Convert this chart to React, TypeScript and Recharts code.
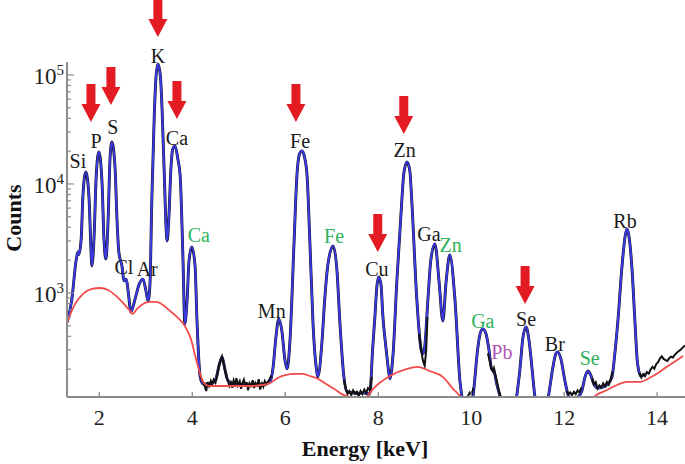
import React from "react";
import { LineChart, Line, XAxis, YAxis, ReferenceDot } from "recharts";

type Pt = [number, number];

// fitted spectrum (blue), [energy keV, counts]
const fitLow: Pt[] = [
  [1.31, 540], [1.41, 880], [1.5, 1970], [1.54, 2380], [1.56, 2250], [1.61, 3130], [1.65, 8100],
  [1.71, 12900], [1.78, 7280], [1.82, 2530], [1.84, 1770], [1.89, 3480], [1.93, 11100], [1.99, 19700],
  [2.06, 10000], [2.1, 3130], [2.14, 2050], [2.19, 4770], [2.23, 16900], [2.27, 24300], [2.34, 13700],
  [2.38, 4770], [2.42, 2380], [2.49, 1740], [2.53, 1290], [2.58, 1340], [2.62, 1040], [2.68, 670],
  [2.77, 881], [2.86, 1210], [2.94, 1340], [3.0, 1065], [3.05, 845], [3.09, 1210], [3.13, 7280],
  [3.18, 39500], [3.22, 95900], [3.26, 126000], [3.31, 102000], [3.35, 48800], [3.39, 15300],
  [3.46, 3000], [3.5, 5300], [3.54, 13700], [3.58, 20900], [3.63, 22300], [3.69, 16900], [3.74, 11800],
  [3.8, 2050], [3.84, 520], [3.89, 881], [3.93, 1970], [3.99, 2640], [4.06, 1770], [4.1, 577],
  [4.17, 170], [4.23, 146], [4.32, 146],
];
const fitMid: Pt[] = [
  [4.45, 150], [4.51, 163], [4.57, 210], [4.64, 259], [4.7, 201], [4.77, 156], [4.92, 146], [5.24, 143],
  [5.56, 146], [5.67, 153], [5.74, 210], [5.8, 395], [5.86, 577], [5.93, 440], [5.99, 248], [6.04, 201],
  [6.1, 355], [6.19, 2940], [6.25, 11800], [6.31, 19000], [6.36, 20100], [6.41, 18000], [6.47, 11800],
  [6.53, 2940], [6.6, 498], [6.68, 188], [6.7, 170], [6.79, 355], [6.85, 881], [6.92, 1850], [7.03, 2700],
  [7.11, 1660], [7.18, 498], [7.26, 173], [7.33, 124],
];
const fitHigh: Pt[] = [
  [7.43, 122], [7.56, 120], [7.69, 121], [7.82, 118], [7.88, 306], [7.93, 615], [7.97, 1130], [8.01, 1400],
  [8.06, 1190], [8.1, 615], [8.17, 306], [8.21, 214], [8.25, 163], [8.32, 276], [8.4, 1260], [8.51, 7280],
  [8.55, 12400], [8.62, 15900], [8.68, 13200], [8.72, 7280], [8.83, 881], [8.92, 306], [8.96, 276],
  [9.0, 320], [9.07, 881], [9.13, 1970], [9.22, 2820], [9.31, 1260], [9.39, 553], [9.46, 1260],
  [9.54, 2230], [9.65, 881], [9.76, 153], [9.8, 113], [9.89, 80], [9.97, 80], [10.04, 113], [10.14, 306],
  [10.19, 420], [10.25, 468], [10.32, 420], [10.38, 306], [10.44, 201], [10.49, 192], [10.55, 146],
  [10.62, 113], [10.69, 86], [10.83, 70], [10.95, 90], [10.98, 113], [11.05, 201], [11.11, 379],
  [11.18, 488], [11.24, 379], [11.31, 201], [11.37, 113], [11.44, 86], [11.55, 70], [11.61, 86],
  [11.67, 118], [11.76, 210], [11.82, 276], [11.86, 288], [11.93, 248], [12.02, 153], [12.08, 118],
  [12.17, 100], [12.3, 111], [12.38, 126], [12.45, 170], [12.51, 192], [12.57, 177], [12.64, 146],
  [12.73, 134], [12.83, 137], [12.94, 146], [13.03, 170], [13.09, 276], [13.16, 577], [13.24, 1660],
  [13.31, 3270], [13.35, 3870], [13.39, 3400], [13.46, 1660], [13.52, 577], [13.58, 223], [13.65, 173],
  [13.74, 181],
];

// background (red)
const background: Pt[] = [
  [1.31, 542], [1.48, 793], [1.65, 980], [1.84, 1090], [2.02, 1110], [2.19, 1065], [2.36, 940],
  [2.53, 793], [2.66, 684], [2.72, 642], [2.81, 713], [2.94, 793], [3.09, 827], [3.22, 827], [3.37, 776],
  [3.52, 684], [3.67, 602], [3.84, 498], [3.97, 379], [4.08, 248], [4.17, 181], [4.25, 149], [4.38, 140],
  [5.24, 140], [5.5, 143], [5.67, 149], [5.84, 166], [6.02, 177], [6.19, 181], [6.36, 181], [6.53, 173],
  [6.7, 163], [6.88, 146], [7.05, 132], [7.22, 118], [7.39, 111], [7.56, 109], [7.74, 111], [7.89, 132],
  [8.25, 173], [8.62, 201], [8.85, 210], [9.11, 192], [9.39, 170], [9.61, 132], [9.76, 113], [9.89, 95],
  [10.5, 60], [11.5, 50], [12.2, 70], [12.55, 95], [12.66, 113], [12.88, 126], [13.09, 140], [13.35, 153],
  [13.63, 153], [13.91, 173], [14.21, 210], [14.56, 264],
];

// measured counts where they leave the fit (black)
const measuredNoise: Pt[][] = [
  [
    [4.17, 175], [4.2, 160], [4.24, 150], [4.27, 138], [4.3, 126], [4.33, 152], [4.36, 140], [4.4, 156],
    [4.43, 145], [4.46, 160], [4.5, 150], [4.53, 170], [4.57, 210], [4.61, 240], [4.64, 262], [4.67, 230],
    [4.7, 200], [4.73, 172], [4.76, 160], [4.8, 140], [4.83, 150], [4.86, 135], [4.89, 158], [4.92, 145],
    [4.95, 165], [4.98, 142], [5.02, 155], [5.05, 132], [5.08, 150], [5.11, 160], [5.14, 138], [5.17, 152],
    [5.2, 128], [5.23, 148], [5.26, 140], [5.3, 158], [5.33, 134], [5.36, 150], [5.4, 142], [5.43, 162],
    [5.46, 130], [5.5, 148], [5.53, 138], [5.56, 155], [5.59, 145], [5.62, 152], [5.66, 160], [5.7, 175],
  ],
  [
    [7.26, 160], [7.3, 135], [7.34, 118], [7.38, 126], [7.42, 116], [7.46, 128], [7.5, 119], [7.54, 124],
    [7.58, 113], [7.62, 126], [7.66, 118], [7.7, 130], [7.74, 121], [7.78, 134], [7.82, 128], [7.86, 170],
  ],
  [[8.88, 420], [8.92, 320], [8.95, 255], [8.98, 225], [9.0, 215], [9.03, 290], [9.06, 600]],
  [[9.93, 113], [9.97, 122], [10.01, 118], [10.05, 135]],
  [
    [10.36, 280], [10.4, 235], [10.43, 205], [10.46, 192], [10.49, 205], [10.52, 178], [10.56, 150],
    [10.6, 125], [10.63, 113],
  ],
  [
    [12.05, 126], [12.09, 118], [12.13, 122], [12.17, 116], [12.21, 124], [12.25, 118], [12.29, 128],
    [12.33, 122], [12.37, 135],
  ],
  [
    [12.6, 165], [12.64, 145], [12.68, 152], [12.72, 133], [12.76, 142], [12.8, 136], [12.84, 148],
    [12.88, 139], [12.92, 152], [12.96, 144], [13.0, 162], [13.04, 190],
  ],
  [
    [13.62, 185], [13.66, 168], [13.7, 180], [13.74, 172], [13.78, 188], [13.82, 182], [13.86, 198],
    [13.9, 210], [13.94, 202], [13.98, 222], [14.02, 232], [14.06, 250], [14.1, 262], [14.14, 248],
    [14.18, 242], [14.22, 238], [14.26, 252], [14.3, 260], [14.34, 256], [14.38, 270], [14.42, 282],
    [14.46, 292], [14.5, 300], [14.55, 315], [14.6, 330],
  ],
];

const xTicks = [2, 4, 6, 8, 10, 12, 14];
const yMajor = [1000, 10000, 100000];
const yMinor = [
  200, 300, 400, 500, 600, 700, 800, 900,
  2000, 3000, 4000, 5000, 6000, 7000, 8000, 9000,
  20000, 30000, 40000, 50000, 60000, 70000, 80000, 90000,
];

// element labels: name, energy, counts, line kind
const elementLabels: { name: string; e: number; c: number; kind: string }[] = [
  { name: "Si", e: 1.54, c: 16300, kind: "ka" },
  { name: "P", e: 1.93, c: 24800, kind: "ka" },
  { name: "S", e: 2.29, c: 33300, kind: "ka" },
  { name: "Cl", e: 2.53, c: 1730, kind: "ka" },
  { name: "Ar", e: 3.03, c: 1660, kind: "ka" },
  { name: "K", e: 3.26, c: 149000, kind: "ka" },
  { name: "Ca", e: 3.67, c: 26400, kind: "ka" },
  { name: "Ca", e: 4.14, c: 3400, kind: "kb" },
  { name: "Mn", e: 5.71, c: 684, kind: "ka" },
  { name: "Fe", e: 6.32, c: 24800, kind: "ka" },
  { name: "Fe", e: 7.05, c: 3330, kind: "kb" },
  { name: "Cu", e: 7.97, c: 1660, kind: "ka" },
  { name: "Zn", e: 8.57, c: 20500, kind: "ka" },
  { name: "Ga", e: 9.09, c: 3480, kind: "ka" },
  { name: "Zn", e: 9.56, c: 2760, kind: "kb" },
  { name: "Ga", e: 10.25, c: 553, kind: "kb" },
  { name: "Pb", e: 10.66, c: 288, kind: "l" },
  { name: "Se", e: 11.18, c: 577, kind: "ka" },
  { name: "Br", e: 11.8, c: 340, kind: "ka" },
  { name: "Se", e: 12.55, c: 254, kind: "kb" },
  { name: "Rb", e: 13.31, c: 4580, kind: "ka" },
];

// red arrows, tip position
const arrows: { e: number; c: number }[] = [
  { e: 1.82, c: 37000 },
  { e: 2.25, c: 53100 },
  { e: 3.26, c: 223000 },
  { e: 3.67, c: 39500 },
  { e: 6.23, c: 37000 },
  { e: 7.99, c: 2380 },
  { e: 8.55, c: 28700 },
  { e: 11.16, c: 793 },
];

const SERIF = "'Liberation Serif', 'Times New Roman', serif";
const AXIS = "#8c8c8c";
const kindColor: Record<string, string> = { ka: "#1a1a1a", kb: "#2db35a", l: "#b055b5" };

const rows = (pts: Pt[]) => pts.map(([e, c]) => ({ e, c }));
const fitData = rows([...fitLow, ...fitMid, ...fitHigh]);
const bgData = rows(background);

const XTick = (props: any) => {
  const { x, y, payload } = props;
  return (
    <g>
      <line x1={x} x2={x} y1={y} y2={y - 5} stroke={AXIS} strokeWidth={1.3} />
      <text x={x} y={y + 28} textAnchor="middle" fontSize={22} fontFamily={SERIF} fill="#222">
        {payload.value}
      </text>
    </g>
  );
};

const YTick = (props: any) => {
  const { x, y, payload } = props;
  const v = payload.value;
  const major = yMajor.includes(v);
  return (
    <g>
      <line x1={x} x2={x + (major ? 7 : 4)} y1={y} y2={y} stroke={AXIS} strokeWidth={1.2} />
      {major && (
        <text x={x - 3} y={y + 9} textAnchor="end" fontSize={23} fontFamily={SERIF} fill="#222">
          10
          <tspan dy={-9} fontSize={15}>
            {Math.round(Math.log10(v))}
          </tspan>
        </text>
      )}
    </g>
  );
};

const ElementText = (props: any) => {
  const { cx, cy, name, kind } = props;
  return (
    <text x={cx} y={cy + 7} textAnchor="middle" fontSize={20} fontFamily={SERIF} fill={kindColor[kind]}>
      {name}
    </text>
  );
};

const Arrow = (props: any) => {
  const { cx, cy } = props;
  const pts = [
    [cx - 4.5, cy - 38],
    [cx + 4.5, cy - 38],
    [cx + 4.5, cy - 18],
    [cx + 9.5, cy - 18],
    [cx, cy],
    [cx - 9.5, cy - 18],
    [cx - 4.5, cy - 18],
  ]
    .map((p) => p.join(","))
    .join(" ");
  return <polygon points={pts} fill="#e31b23" />;
};

const countsTitle = () => (
  <text x={21} y={218} transform="rotate(-90 21 218)" textAnchor="middle" fontSize={22} fontWeight="bold" fontFamily={SERIF} fill="#111">
    Counts
  </text>
);

const energyTitle = () => (
  <text x={365} y={456} textAnchor="middle" fontSize={22} fontWeight="bold" fontFamily={SERIF} fill="#111">
    Energy [keV]
  </text>
);

const App = () => {
  return (
    <div style={{ position: "absolute", left: 0, top: 0, width: 685, height: 464, background: "#fff" }}>
      <LineChart width={685} height={464} margin={{ top: 62, right: 0, bottom: 0, left: 0 }}>
        <XAxis
          type="number"
          dataKey="e"
          domain={[1.305, 14.6]}
          allowDataOverflow
          ticks={xTicks}
          interval={0}
          tick={<XTick />}
          tickLine={false}
          tickSize={0}
          tickMargin={0}
          height={67}
          axisLine={{ stroke: AXIS, strokeWidth: 2 }}
          label={energyTitle}
        />
        <YAxis
          type="number"
          scale="log"
          domain={[111, 131500]}
          allowDataOverflow
          ticks={[...yMinor, ...yMajor].sort((a, b) => a - b)}
          interval={0}
          tick={<YTick />}
          tickLine={false}
          tickSize={0}
          tickMargin={0}
          width={67}
          axisLine={{ stroke: AXIS, strokeWidth: 2 }}
          label={countsTitle}
        />
        <Line data={fitData} dataKey="c" type="monotone" stroke="#111" strokeWidth={2.9} dot={false} isAnimationActive={false} />
        <Line data={fitData} dataKey="c" type="monotone" stroke="#3a3ae0" strokeWidth={2.1} dot={false} isAnimationActive={false} />
        {measuredNoise.map((seg, i) => (
          <Line key={i} data={rows(seg)} dataKey="c" type="linear" stroke="#111" strokeWidth={2} dot={false} isAnimationActive={false} />
        ))}
        <Line data={bgData} dataKey="c" type="monotone" stroke="#f24b4b" strokeWidth={1.8} dot={false} isAnimationActive={false} />
        {elementLabels.map((l, i) => (
          <ReferenceDot
            key={"l" + i}
            x={l.e}
            y={l.c}
            ifOverflow="visible"
            shape={(p: any) => <ElementText {...p} name={l.name} kind={l.kind} />}
          />
        ))}
        {arrows.map((a, i) => (
          <ReferenceDot key={"a" + i} x={a.e} y={a.c} ifOverflow="visible" shape={(p: any) => <Arrow {...p} />} />
        ))}
      </LineChart>
    </div>
  );
};

export default App;
